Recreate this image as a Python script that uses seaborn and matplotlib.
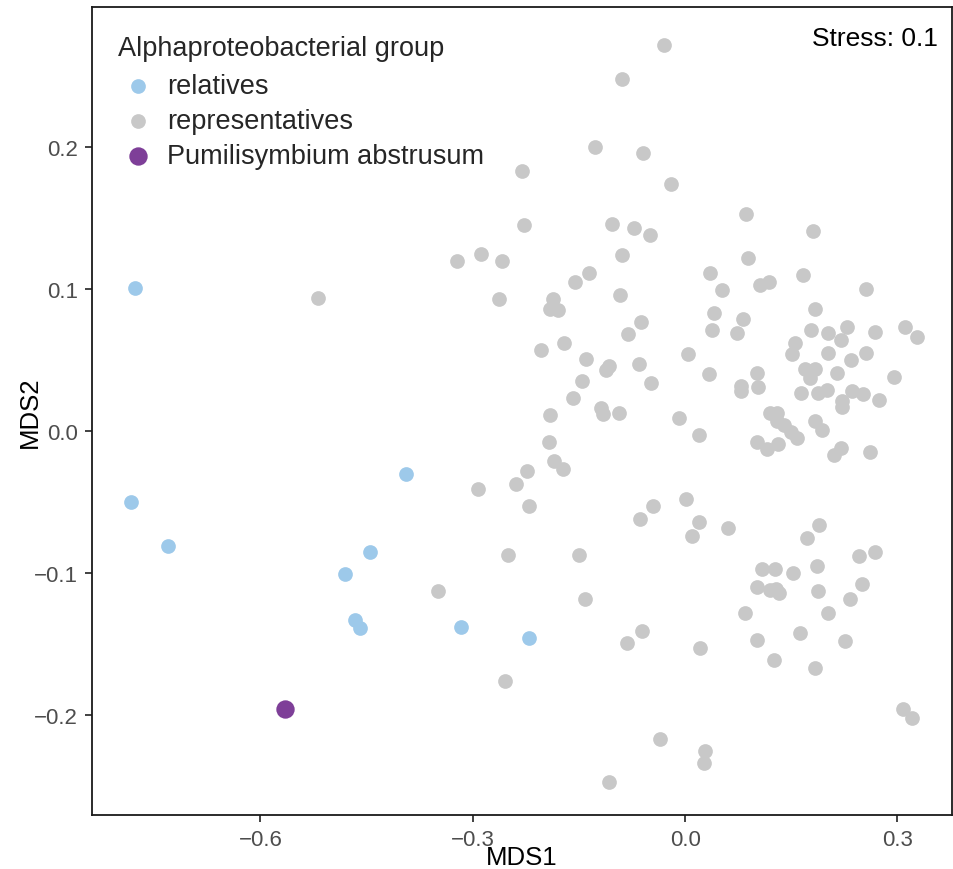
import numpy as np
import pandas as pd
import matplotlib
matplotlib.use("Agg")
import matplotlib.pyplot as plt
import seaborn as sns

# ---------------- data ----------------
groups = ["relatives", "representatives", "Pumilisymbium abstrusum"]
group_colors = ["#9DC9EA", "#C8C8C8", "#7E3F98"]

relatives_x = [-0.777, -0.783, -0.731, -0.395, -0.445, -0.480, -0.466, -0.459, -0.317, -0.220]
relatives_y = [0.101, -0.050, -0.081, -0.030, -0.085, -0.101, -0.133, -0.139, -0.138, -0.146]

pumili_x = [-0.565]
pumili_y = [-0.196]

repr_x = [
    -0.030, -0.089, -0.127, -0.059, -0.231, -0.020, -0.227, -0.103, -0.072, -0.049,
    -0.089, -0.323, -0.288, -0.259, -0.136, 0.086, 0.181, 0.089, -0.263, -0.155,
    -0.092, -0.186, -0.191, -0.180, -0.062, -0.081, -0.204, -0.171, -0.140, -0.107,
    -0.112, -0.065, -0.048, -0.146, -0.159, -0.119, -0.116, -0.093, -0.009, -0.191,
    -0.192, -0.185, -0.173, -0.224, -0.239, -0.292, 0.035, 0.052, 0.106, 0.118,
    0.166, 0.255, 0.184, 0.041, 0.082, 0.038, 0.073, 0.178, 0.202, 0.228,
    0.220, 0.268, 0.311, 0.328, 0.004, 0.155, 0.151, 0.202, 0.234, 0.256,
    0.169, 0.183, 0.177, 0.214, 0.295, 0.034, 0.102, 0.079, 0.079, 0.103,
    0.164, 0.187, 0.200, 0.236, 0.251, 0.274, 0.221, 0.221, 0.120, 0.130,
    0.130, 0.140, 0.150, 0.158, 0.183, 0.193, 0.101, 0.116, 0.131, 0.019,
    0.220, 0.210, 0.261, 0.001, -0.221, -0.046, -0.064, -0.250, -0.150, -0.349,
    -0.142, -0.061, -0.082, -0.255, -0.036, -0.108, 0.020, 0.009, 0.060, 0.189,
    0.172, 0.246, 0.268, 0.109, 0.127, 0.153, 0.186, 0.101, 0.120, 0.128,
    0.133, 0.188, 0.250, 0.233, 0.084, 0.202, 0.102, 0.162, 0.226, 0.021,
    0.125, 0.183, 0.308, 0.321, 0.028, 0.027, -0.519,
]
repr_y = [
    0.272, 0.248, 0.200, 0.196, 0.183, 0.174, 0.145, 0.146, 0.143, 0.138,
    0.124, 0.120, 0.125, 0.120, 0.111, 0.153, 0.141, 0.122, 0.093, 0.105,
    0.096, 0.093, 0.086, 0.085, 0.077, 0.068, 0.057, 0.062, 0.051, 0.046,
    0.043, 0.047, 0.034, 0.035, 0.023, 0.016, 0.012, 0.013, 0.009, 0.011,
    -0.008, -0.021, -0.027, -0.028, -0.037, -0.041, 0.111, 0.099, 0.103, 0.105,
    0.110, 0.100, 0.086, 0.083, 0.079, 0.071, 0.069, 0.071, 0.069, 0.073,
    0.064, 0.070, 0.073, 0.066, 0.054, 0.062, 0.054, 0.055, 0.050, 0.055,
    0.044, 0.044, 0.037, 0.041, 0.038, 0.040, 0.041, 0.032, 0.028, 0.031,
    0.027, 0.027, 0.029, 0.028, 0.026, 0.022, 0.021, 0.017, 0.013, 0.013,
    0.007, 0.004, -0.001, -0.005, 0.007, 0.001, -0.008, -0.013, -0.009, -0.003,
    -0.012, -0.017, -0.015, -0.048, -0.053, -0.053, -0.062, -0.087, -0.087, -0.113,
    -0.118, -0.141, -0.149, -0.176, -0.217, -0.247, -0.064, -0.074, -0.068, -0.066,
    -0.075, -0.088, -0.085, -0.097, -0.097, -0.100, -0.095, -0.110, -0.112, -0.111,
    -0.114, -0.113, -0.108, -0.118, -0.128, -0.128, -0.147, -0.142, -0.148, -0.153,
    -0.161, -0.167, -0.196, -0.202, -0.225, -0.234, 0.094,
]

x_ticks = [-0.6, -0.3, 0.0, 0.3]
y_ticks = [-0.2, -0.1, 0.0, 0.1, 0.2]
stress_label = "Stress: 0.1"

# ---------------- table ----------------
df = pd.DataFrame({
    "MDS1": repr_x + relatives_x + pumili_x,
    "MDS2": repr_y + relatives_y + pumili_y,
    "group": [groups[1]] * len(repr_x) + [groups[0]] * len(relatives_x) + [groups[2]] * len(pumili_x),
})

# ---------------- style ----------------
sns.set_theme(style="ticks")
plt.rcParams["font.family"] = ["Liberation Sans", "DejaVu Sans"]

fig = plt.figure(figsize=(9.54, 8.70), dpi=100)
ax = fig.add_axes([92 / 954, 1 - 816 / 870, (952 - 92) / 954, (816 - 8) / 870])

sizes = {groups[0]: 112, groups[1]: 112, groups[2]: 175}
draw_order = [groups[1], groups[0], groups[2]]
for g in draw_order:
    sub = df[df["group"] == g]
    sns.scatterplot(data=sub, x="MDS1", y="MDS2", color=group_colors[groups.index(g)],
                    s=sizes[g], linewidth=0, alpha=1, ax=ax, label=g, legend=True, zorder=3)

ax.set_xlim(-0.838, 0.377)
ax.set_ylim(-0.2704, 0.2986)
ax.set_xticks(x_ticks)
ax.set_xticklabels([f"{v:.1f}".replace("-", "\u2212") for v in x_ticks])
ax.set_yticks(y_ticks)
ax.set_yticklabels([f"{v:.1f}".replace("-", "\u2212") for v in y_ticks])
ax.tick_params(axis="both", labelsize=16, labelcolor="#4D4D4D", color="#333333",
               length=5, width=1.3, direction="out")
ax.tick_params(axis="x", pad=5)
ax.tick_params(axis="y", pad=5)
ax.set_xlabel("MDS1", fontsize=18.5, color="black")
ax.set_ylabel("MDS2", fontsize=18.5, color="black")
ax.xaxis.set_label_coords(0.5, -42 / 808)
ax.xaxis.label.set_va("center")
ax.yaxis.set_label_coords(-62 / 860, 0.5)
ax.yaxis.label.set_va("center")
for sp in ax.spines.values():
    sp.set_visible(True)
    sp.set_color("#1A1A1A")
    sp.set_linewidth(1.3)
ax.grid(False)

# legend
handles, labels = ax.get_legend_handles_labels()
order = [labels.index(g) for g in groups]
fs = 19.5
leg = ax.legend([handles[i] for i in order], [labels[i] for i in order],
                title="Alphaproteobacterial group", loc="upper left",
                bbox_to_anchor=(0.0173, 0.979), frameon=False, fontsize=fs,
                title_fontsize=fs, labelspacing=0.33, handletextpad=0.33,
                handlelength=1.48, borderaxespad=0.0, alignment="left")
leg._legend_box.sep = 9

ax.text(0.984, 0.977, stress_label, transform=ax.transAxes, ha="right", va="top",
        fontsize=19, color="black")

fig.savefig("out.png", dpi=100)
